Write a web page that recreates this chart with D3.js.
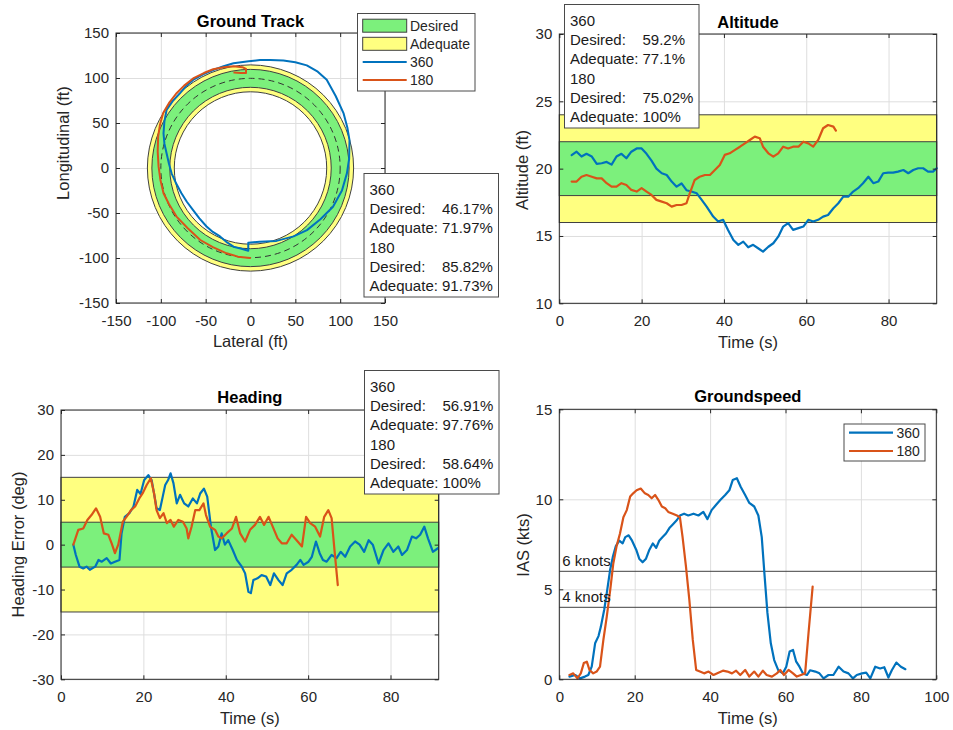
<!DOCTYPE html>
<html>
<head>
<meta charset="utf-8">
<script src="https://cdn.jsdelivr.net/npm/d3@7"></script>
<style>
  html, body { margin: 0; padding: 0; background: #fff; }
  svg { display: block; font-family: 'Liberation Sans', Arial, Helvetica, sans-serif; }
</style>
</head>
<body>
<svg id="fig" width="953" height="730"></svg>
<script>
// ---------------- data ----------------
const runs = ["360", "180"];

// Ground track, [lateral ft, longitudinal ft]
const track360 = [[-2.5,-92],[-2.5,-83],[10,-82],[29,-81],[48,-76],[63,-69],[78,-57],[92,-43],[102,-25],
  [107.5,-6],[110,10],[110.4,31],[108,45],[103.7,61],[95,80],[85,98],[75,107],[62.8,114],[50,117.5],
  [36.7,119.5],[22,120],[10.6,120],[-2,118.5],[-19,116.3],[-30,113],[-41.6,108.9],[-53,104],[-64,97.8],
  [-72,91],[-78.8,83],[-87,74],[-93.6,64.4],[-96,52],[-97,38.5],[-96,27],[-93.6,16.3],[-91,5],[-88,-5.9],
  [-83,-17],[-77,-28],[-71,-37.5],[-64,-46.7],[-57,-56],[-49,-65],[-42,-71],[-34,-76],[-27,-82],
  [-19,-87.4],[-11,-89.5],[-2.5,-92]];
const track180 = [[-0.5,-100],[-14,-98.5],[-26.6,-94.8],[-42,-88],[-56,-80],[-70,-67],[-82.5,-54],[-91,-40],
  [-97,-28],[-100.5,-13],[-102.5,1.5],[-103.5,18],[-103,35],[-101,48],[-97.4,61],[-91,72],[-83,82.5],
  [-74,91.5],[-64,99.5],[-52,105.5],[-41.6,109.7],[-30,112],[-19,113],[-9,112],[-5,110],[-5,105.5],
  [-11,105.5],[-18,106]];
const trackDesiredRing = [90, 110];
const trackAdequateRing = [85, 115];
const trackTarget = 100;

// Altitude, [time s, altitude ft]
const altitude360 = [[3.0,21.0],[4.2,21.26],[5.4,20.9],[6.6,21.1],[7.9,20.9],[9.1,20.35],[10.3,20.4],[11.5,20.5],
  [12.7,20.3],[13.9,20.9],[15.1,21.1],[16.3,20.77],[17.5,21.26],[18.8,21.5],[20.0,21.5],[21.2,21.1],[22.4,20.6],
  [23.6,20.0],[24.9,19.66],[26.1,19.53],[27.3,19.04],[28.5,18.66],[29.7,18.9],[30.9,18.4],[32.1,18.3],
  [33.4,18.17],[34.6,17.68],[35.8,17.18],[37.4,16.44],[38.6,16.07],[39.8,16.2],[41.0,15.45],[42.3,14.7],
  [43.5,14.34],[44.7,14.58],[45.9,14.16],[47.1,14.34],[48.3,14.09],[49.5,13.84],[50.8,14.2],[52.0,14.46],
  [53.2,14.95],[54.4,15.7],[55.6,15.95],[56.8,15.45],[58.1,15.58],[59.3,15.7],[60.5,16.2],[61.7,16.07],
  [62.9,16.2],[64.1,16.44],[65.3,16.56],[66.6,17.06],[67.8,17.43],[69.0,17.92],[70.2,17.92],[71.4,18.3],
  [72.6,18.55],[73.8,18.92],[75.1,19.4],[76.3,18.92],[77.5,19.04],[78.7,19.66],[79.9,19.7],[81.1,19.7],
  [82.3,19.78],[83.6,19.9],[84.8,19.66],[86.0,19.9],[87.2,20.03],[88.4,20.03],[89.6,19.78],[90.8,19.78],[91.7,20.03]];
const altitude180 = [[3.0,19.04],[4.2,19.04],[5.4,19.4],[6.6,19.53],[7.9,19.4],[9.1,19.28],[10.3,19.28],
  [11.5,18.92],[12.7,18.66],[13.9,18.66],[15.1,18.92],[16.3,18.79],[17.5,18.42],[18.8,18.3],[20.0,18.55],
  [21.2,18.3],[22.4,18.05],[23.6,17.68],[24.9,17.55],[26.1,17.43],[27.3,17.18],[28.5,17.3],[29.7,17.3],
  [30.9,17.43],[31.7,18.17],[32.9,19.16],[34.1,19.4],[35.4,19.53],[36.6,19.53],[37.8,19.9],[39.0,20.27],
  [40.2,21.02],[41.4,21.14],[42.7,21.4],[43.9,21.63],[45.1,21.88],[46.3,22.13],[47.5,22.38],[48.7,22.26],
  [49.5,21.63],[50.8,21.14],[52.0,20.89],[53.2,21.14],[54.4,21.63],[55.6,21.5],[56.8,21.63],[58.1,21.63],
  [59.3,22.0],[60.5,21.88],[61.7,21.63],[62.9,22.13],[64.1,23.0],[65.3,23.24],[66.6,23.12],[67.2,22.82]];
const altitudeDesired = [18, 22];
const altitudeAdequate = [16, 24];

// Heading error, [time s, deg]
const heading360 = [[3.0,0],[3.6,-2.3],[4.5,-4.9],[5.4,-5.3],[6.2,-4.9],[7.0,-5.6],[8.3,-4.9],[9.1,-3.4],
  [9.9,-3.8],[11.1,-3.0],[12.1,-4.2],[13.1,-3.8],[14.2,-3.4],[14.7,2.5],[15.5,6.2],[16.6,7.0],[17.6,8.5],
  [18.5,12.2],[19.3,11.3],[20.2,14.4],[21.2,15.5],[22.0,14.4],[22.8,10.3],[23.2,8.1],[24.0,7.7],[24.7,10.7],
  [25.3,13.3],[26.0,14.4],[26.6,15.9],[27.3,13.7],[28.1,9.2],[28.9,11.1],[29.9,9.2],[30.9,8.5],[32.0,10.3],
  [33.0,9.2],[33.8,11.4],[34.7,12.5],[35.5,10.7],[36.4,4.0],[37.4,-1.2],[38.2,-0.4],[39.0,2.5],[39.8,0],
  [40.6,1.0],[41.7,-1.2],[42.7,-3.4],[43.9,-4.9],[44.7,-6.4],[45.5,-10.5],[46.1,-10.8],[46.7,-7.9],
  [47.7,-7.5],[48.7,-6.8],[49.8,-7.1],[50.8,-9.0],[51.7,-6.4],[52.8,-7.9],[53.8,-9.0],[54.8,-6.4],
  [56.0,-5.6],[57.2,-4.5],[58.1,-3.4],[58.9,-4.5],[60.1,-3.8],[60.9,-2.7],[61.9,0.7],[62.8,-1.9],
  [63.6,-3.4],[64.5,-3.8],[65.7,-2.3],[66.9,-3.0],[67.9,-1.6],[69.0,-2.7],[70.2,-0.4],[71.4,0.7],[72.5,0],
  [73.6,-1.6],[74.7,1.0],[75.7,0],[77.1,-4.2],[78.3,-1.2],[79.5,0.3],[80.7,-1.6],[81.9,-0.4],[82.8,-2.3],
  [84.0,-1.2],[85.2,1.8],[86.2,1.4],[87.2,2.2],[88.2,4.0],[89.1,1.4],[90.3,-1.6],[91.5,-0.8]];
const heading180 = [[3.0,0],[4.2,3.3],[5.4,3.6],[6.4,5.5],[7.4,6.6],[8.5,8.1],[9.5,6.2],[10.4,2.5],[11.5,2.2],
  [12.3,0.3],[13.1,-1.9],[13.9,0],[15.0,5.1],[15.9,6.2],[17.0,7.7],[18.0,8.5],[19.0,10.3],[19.8,11.4],
  [20.8,13.3],[21.8,14.8],[22.6,11.4],[23.2,7.7],[24.0,5.9],[24.9,7.0],[25.7,4.8],[26.6,5.5],[27.4,4.0],
  [28.5,5.5],[29.6,5.1],[30.5,3.6],[30.9,1.4],[31.7,4.0],[32.6,7.7],[33.6,7.7],[34.6,9.2],[35.2,6.6],
  [36.2,4.0],[37.4,3.3],[38.2,1.8],[39.0,1.4],[40.2,2.5],[41.5,3.6],[42.5,6.2],[43.5,2.5],[44.7,0.7],
  [45.9,3.3],[47.1,4.4],[48.3,6.2],[49.3,4.4],[50.4,6.2],[51.4,4.0],[52.6,1.4],[53.6,0.3],[54.8,0.3],
  [56.0,2.2],[57.2,1.0],[58.5,-0.4],[59.5,6.2],[60.5,4.8],[61.7,4.0],[62.9,1.8],[63.9,6.2],[64.9,7.7],
  [65.7,5.9],[66.4,-1.2],[67.2,-9.0]];
const headingDesired = [-5, 5];
const headingAdequate = [-15, 15];

// Groundspeed, [time s, kts]
const speed360 = [[2.7,0.15],[4.2,0.24],[5.5,0.05],[6.8,0.15],[7.7,0.24],[8.6,0.7],[9.5,2.0],[10.4,2.4],
  [11.0,2.9],[11.9,3.85],[12.6,4.8],[13.5,6.1],[14.2,6.8],[15.0,7.4],[15.9,7.7],[16.8,7.55],[17.5,7.9],
  [18.4,8.0],[19.3,7.7],[20.4,7.2],[21.2,6.7],[22.1,6.5],[23.0,6.7],[23.9,7.2],[24.8,7.55],[25.7,7.3],
  [26.5,7.7],[27.4,7.9],[28.3,8.1],[29.2,8.4],[30.1,8.6],[31.2,8.85],[32.0,9.1],[33.1,9.2],[34.2,9.1],
  [35.6,9.2],[36.9,9.1],[38.2,9.3],[39.3,8.9],[40.4,9.4],[41.6,9.7],[42.7,9.96],[44.0,10.24],[45.1,10.5],
  [46.0,11.07],[47.1,11.17],[48.1,10.7],[49.3,10.24],[50.4,9.8],[51.7,9.6],[52.8,9.1],[53.7,7.9],
  [54.4,5.9],[55.2,3.7],[56.1,2.0],[57.0,1.07],[58.1,0.5],[59.3,0.33],[60.2,0.7],[61.1,1.54],[62.0,1.63],
  [62.8,1.0],[63.7,0.7],[64.6,0.33],[65.7,0.24],[66.5,0.5],[67.9,0.43],[69.0,0.33],[70.1,0.05],[71.4,0.24],
  [72.7,0.24],[74.1,0.7],[75.4,0.43],[76.7,0.33],[77.9,0.05],[78.9,0.24],[80.3,0.33],[81.4,0.37],[82.5,0.05],
  [83.8,0.7],[85.1,0.6],[86.2,0.67],[87.3,0.1],[88.2,0.5],[89.4,0.93],[90.6,0.7],[91.8,0.56]];
const speed180 = [[2.7,0.24],[3.7,0.33],[4.8,0.05],[5.7,0.33],[6.5,0.9],[7.3,0.98],[8.0,0.52],[9.0,0.33],
  [9.9,0.43],[10.8,0.7],[11.7,2.2],[12.6,3.5],[13.5,4.96],[14.3,6.4],[15.2,7.4],[16.1,8.1],[17.0,9.0],
  [17.9,9.4],[18.8,10.15],[19.6,10.33],[20.5,10.5],[21.6,10.6],[22.7,10.33],[23.6,10.24],[24.5,10.06],
  [25.4,10.24],[26.3,9.96],[27.2,9.6],[28.1,9.5],[28.9,9.3],[30.1,9.2],[31.2,9.1],[32.0,9.0],[32.7,7.9],
  [33.6,6.26],[34.5,4.4],[35.4,2.2],[36.3,0.52],[37.3,0.43],[38.4,0.33],[39.6,0.43],[40.9,0.24],[42.2,0.37],
  [43.4,0.48],[44.6,0.43],[45.8,0.33],[46.9,0.48],[48.0,0.24],[49.3,0.52],[50.4,0.15],[51.7,0.43],[52.8,0.15],
  [54.0,0.48],[55.0,0.24],[56.4,0.15],[57.7,0.33],[58.6,0.52],[59.6,0.24],[60.8,0.52],[62.0,0.33],[63.0,0.15],
  [64.1,0.24],[65.2,0.33],[66.1,2.56],[67.2,5.15]];
const speedThresholds = [6, 4];

// Percent of time inside each band, per run (order of `runs`)
const trackDesiredPct = [46.17, 85.82];
const trackAdequatePct = [71.97, 91.73];
const altitudeDesiredPct = [59.2, 75.02];
const altitudeAdequatePct = [77.1, 100];
const headingDesiredPct = [56.91, 58.64];
const headingAdequatePct = [97.76, 100];

// Tick values
const trackTicks = [-150, -100, -50, 0, 50, 100, 150];
const altitudeTicks = [10, 15, 20, 25, 30];
const headingTicks = [-30, -20, -10, 0, 10, 20, 30];
const speedTicks = [0, 5, 10, 15];
const timeTicks = [0, 20, 40, 60, 80];
const speedTimeTicks = [0, 20, 40, 60, 80, 100];

// ---------------- drawing ----------------
const svg = d3.select("#fig");
const INK = "#262626", GRID = "#dedede", EDGE = "#404040";
const C360 = "#0072bd", C180 = "#d95319";
const GREEN = "#7cf07c", YELLOW = "#ffff80";
const runColor = [C360, C180];
const TICK_FS = 15, LABEL_FS = 16.5, BOX_FS = 15, LEG_FS = 14;
const LW = 2.2;

function panel(o) {
  const x = d3.scaleLinear().domain(o.xDomain).range([o.left, o.right]);
  const y = d3.scaleLinear().domain(o.yDomain).range([o.bottom, o.top]);
  const w = o.right - o.left, h = o.bottom - o.top;
  const g = svg.append("g");
  const grid = g.append("g");
  grid.append("g").attr("transform", `translate(0,${o.bottom})`)
    .call(d3.axisBottom(x).tickValues(o.xTicks).tickSize(-h).tickFormat(""));
  grid.append("g").attr("transform", `translate(${o.left},0)`)
    .call(d3.axisLeft(y).tickValues(o.yTicks).tickSize(-w).tickFormat(""));
  grid.selectAll(".domain").remove();
  grid.selectAll("line").attr("stroke", GRID).attr("stroke-width", 1);
  const plot = g.append("g");
  const front = g.append("g");
  return { x, y, o, plot, front, w, h };
}

function frame(p) {
  const { x, y, o, front } = p;
  const fmt = d => String(d);
  const tk = 4;
  const axes = [
    front.append("g").attr("transform", `translate(0,${o.bottom})`)
      .call(d3.axisBottom(x).tickValues(o.xTicks).tickSize(-tk).tickPadding(12).tickFormat(fmt)),
    front.append("g").attr("transform", `translate(0,${o.top})`)
      .call(d3.axisTop(x).tickValues(o.xTicks).tickSize(-tk).tickFormat("")),
    front.append("g").attr("transform", `translate(${o.left},0)`)
      .call(d3.axisLeft(y).tickValues(o.yTicks).tickSize(-tk).tickPadding(7).tickFormat(fmt)),
    front.append("g").attr("transform", `translate(${o.right},0)`)
      .call(d3.axisRight(y).tickValues(o.yTicks).tickSize(-tk).tickFormat(""))
  ];
  axes.forEach(a => {
    a.select(".domain").remove();
    a.selectAll("line").attr("stroke", INK);
    a.selectAll("text").attr("fill", INK).attr("font-size", TICK_FS)
      .attr("font-family", "'Liberation Sans', Arial, sans-serif");
  });
  front.append("rect").attr("x", o.left).attr("y", o.top)
    .attr("width", p.w).attr("height", p.h)
    .attr("fill", "none").attr("stroke", INK).attr("stroke-width", 1);
  const cx = (o.left + o.right) / 2;
  front.append("text").attr("x", cx).attr("y", o.titleY + 5.9)
    .attr("text-anchor", "middle").attr("font-size", LABEL_FS).attr("font-weight", "bold")
    .attr("fill", "#000").text(o.title);
  front.append("text").attr("x", cx).attr("y", o.bottom + 38.5 + 5.9)
    .attr("text-anchor", "middle").attr("font-size", LABEL_FS).attr("fill", INK).text(o.xLabel);
  front.append("text")
    .attr("transform", `translate(${o.yLabelX + 5.9},${o.yLabelY}) rotate(-90)`)
    .attr("text-anchor", "middle").attr("font-size", LABEL_FS).attr("fill", INK).text(o.yLabel);
}

function bandRects(p, adequate, desired) {
  const { x, y, o, plot } = p;
  [[adequate, YELLOW], [desired, GREEN]].forEach(([b, c]) => {
    plot.append("rect")
      .attr("x", x(o.xDomain[0])).attr("width", x(o.xDomain[1]) - x(o.xDomain[0]))
      .attr("y", y(b[1])).attr("height", y(b[0]) - y(b[1]))
      .attr("fill", c).attr("stroke", EDGE).attr("stroke-width", 1);
  });
}

function seriesLine(p, data, color, width) {
  const line = d3.line().x(d => p.x(d[0])).y(d => p.y(d[1]));
  p.plot.append("path").datum(data).attr("d", line)
    .attr("fill", "none").attr("stroke", color).attr("stroke-width", width)
    .attr("stroke-linejoin", "round").attr("stroke-linecap", "round");
}

function statBox(left, top, desiredPct, adequatePct) {
  const g = svg.append("g");
  g.append("rect").attr("x", left).attr("y", top).attr("width", 134.5).attr("height", 123.5)
    .attr("fill", "#fff").attr("stroke", "#4a4a4a").attr("stroke-width", 1);
  const rows = [];
  runs.forEach((r, i) => {
    rows.push([r, ""]);
    rows.push(["Desired:", desiredPct[i] + "%"]);
    rows.push(["Adequate:", adequatePct[i] + "%"]);
  });
  rows.forEach((row, i) => {
    const yy = top + 16 + 19.2 * i + 5.4;
    g.append("text").attr("x", left + 5.5).attr("y", yy).attr("font-size", BOX_FS)
      .attr("fill", "#1a1a1a").text(row[0]);
    if (row[1]) g.append("text").attr("x", left + 78).attr("y", yy).attr("font-size", BOX_FS)
      .attr("fill", "#1a1a1a").text(row[1]);
  });
}

// ---- Ground Track ----
const pT = panel({ left: 116, right: 385, top: 33, bottom: 303,
  xDomain: [-150, 150], yDomain: [-150, 150], xTicks: trackTicks, yTicks: trackTicks,
  title: "Ground Track", titleY: 20.7, xLabel: "Lateral (ft)", yLabel: "Longitudinal (ft)",
  yLabelX: 63.3, yLabelY: 143 });
{
  const cx = pT.x(0), cy = pT.y(0), k = pT.x(1) - pT.x(0);
  const ring = (r0, r1) => d3.arc().innerRadius(r0 * k).outerRadius(r1 * k)
    .startAngle(0).endAngle(2 * Math.PI)();
  const rg = pT.plot.append("g").attr("transform", `translate(${cx},${cy})`);
  rg.append("path").attr("d", ring(trackAdequateRing[0], trackAdequateRing[1]))
    .attr("fill", YELLOW).attr("stroke", EDGE).attr("stroke-width", 1).attr("fill-rule", "evenodd");
  rg.append("path").attr("d", ring(trackDesiredRing[0], trackDesiredRing[1]))
    .attr("fill", GREEN).attr("stroke", EDGE).attr("stroke-width", 1).attr("fill-rule", "evenodd");
  rg.append("circle").attr("r", trackTarget * k).attr("fill", "none")
    .attr("stroke", "#333").attr("stroke-width", 1).attr("stroke-dasharray", "6,4");
  seriesLine(pT, track360, C360, 2);
  seriesLine(pT, track180, C180, 2);
}
frame(pT);

// ---- Altitude ----
const pA = panel({ left: 559.3, right: 936.7, top: 34, bottom: 303.3,
  xDomain: [0, 91.7], yDomain: [10, 30], xTicks: timeTicks, yTicks: altitudeTicks,
  title: "Altitude", titleY: 21.7, xLabel: "Time (s)", yLabel: "Altitude (ft)",
  yLabelX: 521.7, yLabelY: 170 });
bandRects(pA, altitudeAdequate, altitudeDesired);
seriesLine(pA, altitude360, C360, LW);
seriesLine(pA, altitude180, C180, LW);
frame(pA);

// ---- Heading ----
const pH = panel({ left: 61, right: 438.7, top: 410, bottom: 679.3,
  xDomain: [0, 91.7], yDomain: [-30, 30], xTicks: timeTicks, yTicks: headingTicks,
  title: "Heading", titleY: 396.7, xLabel: "Time (s)", yLabel: "Heading Error (deg)",
  yLabelX: 18.3, yLabelY: 544.5 });
bandRects(pH, headingAdequate, headingDesired);
seriesLine(pH, heading360, C360, LW);
seriesLine(pH, heading180, C180, LW);
frame(pH);

// ---- Groundspeed ----
const pS = panel({ left: 559.3, right: 936.3, top: 409.3, bottom: 679.3,
  xDomain: [0, 100], yDomain: [0, 15], xTicks: speedTimeTicks, yTicks: speedTicks,
  title: "Groundspeed", titleY: 396, xLabel: "Time (s)", yLabel: "IAS (kts)",
  yLabelX: 523.3, yLabelY: 545 });
speedThresholds.forEach(v => {
  pS.plot.append("line").attr("x1", pS.x(0)).attr("x2", pS.x(100))
    .attr("y1", pS.y(v)).attr("y2", pS.y(v)).attr("stroke", EDGE).attr("stroke-width", 1);
});
seriesLine(pS, speed360, C360, LW);
seriesLine(pS, speed180, C180, LW);
speedThresholds.forEach(v => {
  pS.plot.append("text").attr("x", pS.x(0) + 3).attr("y", pS.y(v) - 5)
    .attr("font-size", BOX_FS).attr("fill", "#1a1a1a").text(`${v} knots`);
});
frame(pS);
{
  // legend (upper right)
  const lg = svg.append("g");
  lg.append("rect").attr("x", 844).attr("y", 424).attr("width", 81).attr("height", 37)
    .attr("fill", "#fff").attr("stroke", "#4a4a4a").attr("stroke-width", 1);
  runs.forEach((r, i) => {
    const yy = 432.7 + 18.3 * i;
    lg.append("line").attr("x1", 849).attr("x2", 893).attr("y1", yy).attr("y2", yy)
      .attr("stroke", runColor[i]).attr("stroke-width", LW);
    lg.append("text").attr("x", 896.5).attr("y", yy + 5).attr("font-size", LEG_FS)
      .attr("fill", INK).text(r);
  });
}

// ---- Ground track legend ----
{
  const lg = svg.append("g");
  lg.append("rect").attr("x", 357.5).attr("y", 13.5).attr("width", 117.5).attr("height", 77.5)
    .attr("fill", "#fff").attr("stroke", "#4a4a4a").attr("stroke-width", 1);
  const items = [["Desired", "patch", GREEN], ["Adequate", "patch", YELLOW],
                 [runs[0], "line", C360], [runs[1], "line", C180]];
  items.forEach(([label, kind, c], i) => {
    const yy = 25.7 + 18.1 * i;
    if (kind === "patch") {
      lg.append("rect").attr("x", 362.7).attr("y", yy - 6.5).attr("width", 44).attr("height", 13)
        .attr("fill", c).attr("stroke", EDGE).attr("stroke-width", 1);
    } else {
      lg.append("line").attr("x1", 362.7).attr("x2", 406.7).attr("y1", yy).attr("y2", yy)
        .attr("stroke", c).attr("stroke-width", 2);
    }
    lg.append("text").attr("x", 410).attr("y", yy + 5).attr("font-size", LEG_FS)
      .attr("fill", INK).text(label);
  });
}

// ---- percentage boxes ----
statBox(364, 173.5, trackDesiredPct, trackAdequatePct);
statBox(564.5, 4.5, altitudeDesiredPct, altitudeAdequatePct);
statBox(364.5, 370.5, headingDesiredPct, headingAdequatePct);
</script>
</body>
</html>
